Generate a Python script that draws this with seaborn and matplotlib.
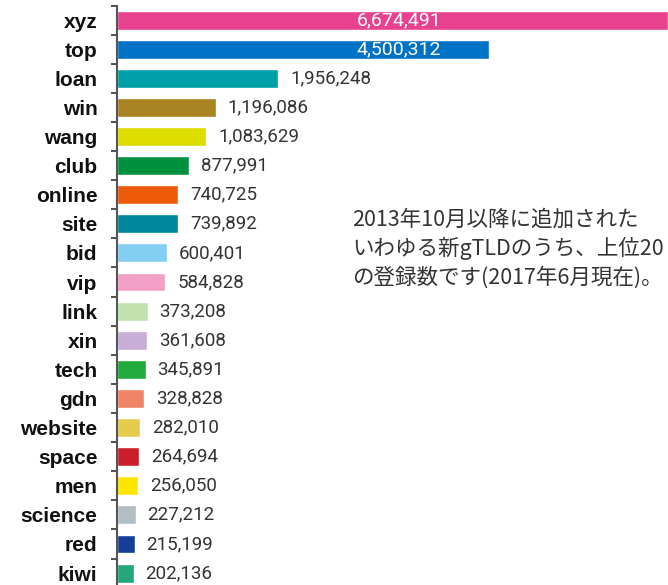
import numpy as np
import pandas as pd
import matplotlib
matplotlib.use("Agg")
import matplotlib.pyplot as plt
import matplotlib.transforms as mtransforms
import seaborn as sb

### Data

tlds = ["xyz", "top", "loan", "win", "wang", "club", "online", "site", "bid", "vip",
        "link", "xin", "tech", "gdn", "website", "space", "men", "science", "red", "kiwi"]
counts = [6674491, 4500312, 1956248, 1196086, 1083629, 877991, 740725, 739892, 600401, 584828,
          373208, 361608, 345891, 328828, 282010, 264694, 256050, 227212, 215199, 202136]
colors = ["#E8418F", "#0072C6", "#00A0A8", "#AA8423", "#DDDD00", "#00913F", "#EC5A0A", "#00869A",
          "#82CFF2", "#F2A0C6", "#C2E2B0", "#C8AED6", "#22AA3C", "#F08468", "#E6CC4C", "#CC1E2A",
          "#FFE600", "#B2BEC4", "#173E96", "#23A87A"]
note_lines = ["2013年10月以降に追加された",
              "いわゆる新gTLDのうち、上位20",
              "の登録数です(2017年6月現在)。"]

df = pd.DataFrame({"tld": tlds, "count": counts})

### Plot

sb.set_style("white")
fig = plt.figure(figsize=(6.68, 5.85), dpi=100)
ax = fig.add_axes([117 / 668, 0.0, 1 - 117 / 668, 1 - 5.5 / 585])

sb.barplot(data=df, x="count", y="tld", hue="tld", palette=colors, width=0.65,
           saturation=1, legend=False, orient="h", ax=ax)

ax.set_xlim(0, max(counts))
ax.set_ylim(19.41, -0.5)
ax.set_xlabel("")
ax.set_ylabel("")
ax.set_xticks([])

# category labels in the middle, tick marks between rows
ax.set_yticks(np.arange(len(tlds)) - 0.5)
ax.set_yticklabels([])
ax.set_yticks(np.arange(len(tlds)), minor=True)
ax.set_yticklabels(tlds, minor=True, fontsize=15, fontweight="bold",
                   family="Liberation Sans", color="#111111")
ax.tick_params(axis="y", which="major", length=4, width=1.2, color="#333333", left=True)
ax.tick_params(axis="y", which="minor", length=0, pad=14)

for s in ["top", "right", "bottom"]:
    ax.spines[s].set_visible(False)
ax.spines["left"].set_color("#555555")
ax.spines["left"].set_linewidth(1.5)

inside = mtransforms.blended_transform_factory(ax.transAxes, ax.transData)
for i, v in enumerate(counts):
    label = "{:,}".format(v)
    if i < 2:
        ax.text(0.512, i, label, transform=inside, ha="center", va="center",
                color="white", fontsize=14, family="Roboto")
    else:
        ax.annotate(label, xy=(v, i), xytext=(8.5, 0), textcoords="offset points",
                    ha="left", va="center", color="#333333", fontsize=13.5, family="Roboto")

# note text, one line at a time (baselines 29 px apart)
for k, line in enumerate(note_lines):
    fig.text(352 / 668, 1 - (226 + 29 * k) / 585, line, ha="left", va="baseline",
             fontsize=15.5, family=["Noto Sans CJK JP", "DejaVu Sans"], color="#333333")

plt.savefig("out.png", dpi=100)
